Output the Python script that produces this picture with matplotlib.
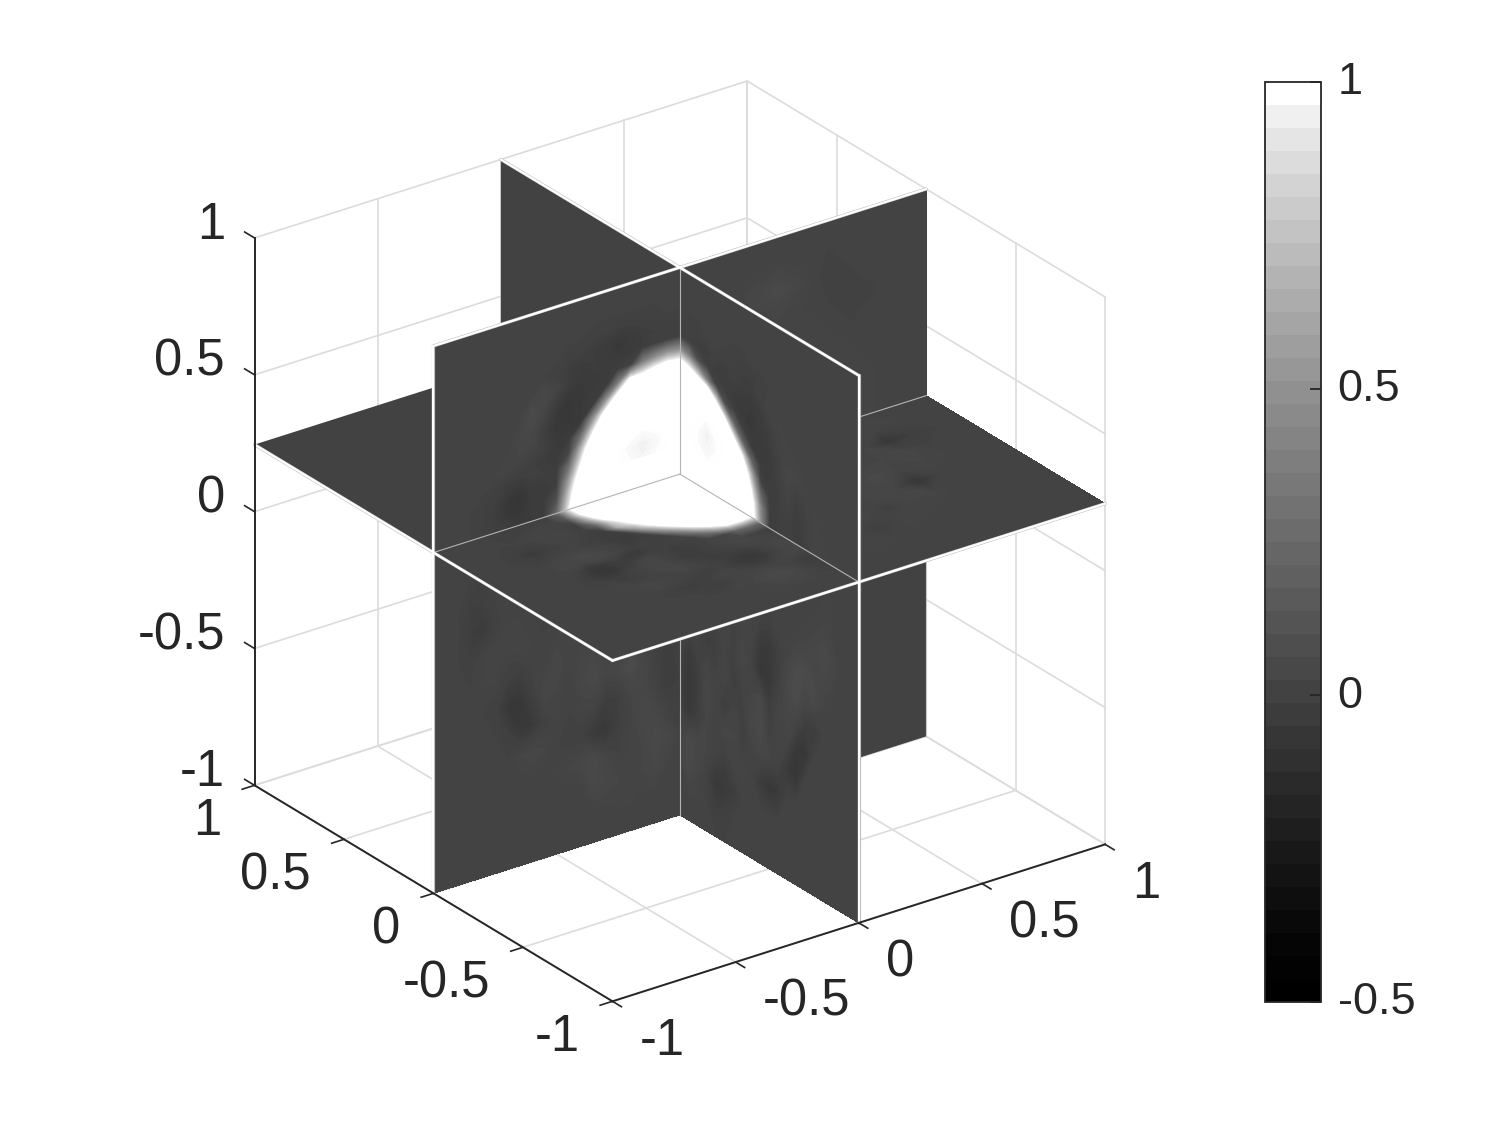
import numpy as np
import matplotlib
matplotlib.use("Agg")
import matplotlib.pyplot as plt
from matplotlib.cm import ScalarMappable
from matplotlib.colors import ListedColormap, LinearSegmentedColormap, Normalize
from matplotlib.transforms import ScaledTranslation

plt.rcParams['font.family'] = ['Liberation Sans', 'DejaVu Sans']

TEXT = '#262626'
GRID = '#dcdcdc'

tick_vals = [-1, -0.5, 0, 0.5, 1]
tick_labels = ['-1', '-0.5', '0', '0.5', '1']
cbar_ticks = [-0.5, 0, 0.5, 1]
cbar_labels = ['-0.5', '0', '0.5', '1']
z_cut = 0.245

# grey steps, bottom to top
grey_levels = [0, 2, 5, 9, 14, 19, 24, 30, 36, 42, 48, 54, 60, 66, 72, 78, 84, 90, 96, 102,
               108, 114, 120, 126, 132, 138, 144, 151, 158, 165, 172, 179, 187, 195, 203,
               211, 220, 229, 240, 255]

# slice values in hundredths, rows run along the second coordinate
# anything above 100 shows as full white
nodes_05 = [-1, -.95, -.9, -.85, -.8, -.75, -.7, -.65, -.6, -.55, -.5, -.45, -.4, -.35, -.3,
            -.25, -.2, -.15, -.1, -.05, 0]
z_up = [z_cut, .3, .35, .4, .45, .5, .55, .6, .65, .7, .75, .8, .85, .9, .95, 1]
z_low = [-1, -.9, -.8, -.7, -.6, -.5, -.4, -.3, -.2, -.1, 0, .1, .2, z_cut]
nodes_pos = [0, .1, .2, .3, .4, .5, .6, .7, .8, .9, 1]
nodes_neg = [-1, -.9, -.8, -.7, -.6, -.5, -.4, -.3, -.2, -.1, 0]

# plane y=0, x<0, above the cut
y0_upper_left = [
    [0, 0, 0, 0, -1, -2, -3, -5, -4, -3, 24, 96, 167, 200, 200, 200, 200, 200, 200, 200, 200],
    [0, 0, 0, 0, -1, -3, -6, -7, -4, -3, 7, 79, 150, 221, 200, 200, 200, 200, 200, 200, 200],
    [0, 0, 0, 0, -1, -2, -6, -8, -4, -4, -2, 57, 129, 200, 200, 100, 99, 97, 99, 100, 100],
    [0, 0, 0, 0, 0, -1, -3, -4, -2, -2, -3, 29, 100, 171, 200, 100, 98, 96, 98, 100, 100],
    [0, 0, 0, 0, 0, 1, 1, 0, -2, -3, -4, 2, 71, 143, 214, 200, 100, 99, 100, 100, 100],
    [0, 0, 0, 0, 0, 0, 1, 2, 1, -1, -5, -4, 29, 100, 171, 200, 200, 200, 200, 200, 200],
    [0, 0, 0, 0, 0, 0, 0, 3, 3, -2, -6, -6, -6, 50, 121, 193, 200, 200, 200, 200, 200],
    [0, 0, 0, 0, 0, 0, 0, 2, 5, 0, -6, -7, -5, -3, 50, 121, 193, 179, 190, 195, 190],
    [0, 0, 0, 0, 0, 0, 0, 0, 5, 3, -3, -6, -6, -4, -4, 36, 107, 107, 121, 129, 121],
    [0, 0, 0, 0, 0, 0, 0, 0, 1, 4, 1, -3, -5, -5, -4, -2, 0, 36, 50, 57, 50],
    [0, 0, 0, 0, 0, 0, 0, 0, 0, 0, -1, -3, -4, -3, -4, -5, -4, -3, -1, -1, -2],
    [0, 0, 0, 0, 0, 0, 0, 0, 0, 0, 0, -1, -2, -3, -4, -6, -5, -3, -2, -2, -2],
    [0, 0, 0, 0, 0, 0, 0, 0, 0, 0, 0, 0, 0, -1, -1, -2, -2, -1, -1, 0, 0],
    [0, 0, 0, 0, 0, 0, 0, 0, 0, 0, 0, 0, 0, 0, 0, 0, 0, 0, 0, 0, 0],
    [0, 0, 0, 0, 0, 0, 0, 0, 0, 0, 0, 0, 0, 0, 0, 0, 0, 0, 0, 0, 0],
    [0, 0, 0, 0, 0, 0, 0, 0, 0, 0, 0, 0, 0, 0, 0, 0, 0, 0, 0, 0, 0],
]

# plane x=0, y<0, above the cut
x0_upper_right = [
    [0, 0, 0, 1, 2, 1, -2, -3, -1, -3, -3, 50, 121, 193, 200, 200, 200, 200, 200, 200, 200],
    [0, 0, 0, 0, 1, 2, -1, -3, -1, -2, -3, 43, 114, 186, 200, 200, 200, 200, 200, 200, 200],
    [0, 0, 0, 0, 0, 2, -1, -3, 0, -2, -3, 21, 93, 164, 200, 200, 100, 99, 100, 100, 100],
    [0, 0, 0, 0, 0, 1, 0, -2, 1, -2, -3, -1, 64, 136, 200, 100, 99, 97, 99, 100, 100],
    [0, 0, 0, 0, 0, 0, 1, 0, 2, -1, -4, -4, 21, 93, 164, 100, 99, 96, 99, 100, 100],
    [0, 0, 0, 0, 0, 0, 1, 2, 2, -1, -4, -5, -3, 21, 93, 164, 100, 99, 100, 100, 100],
    [0, 0, 0, 0, 0, 0, 0, 1, 1, 0, -3, -5, -5, -2, 21, 93, 164, 200, 200, 200, 200],
    [0, 0, 0, 0, 0, 0, 0, 0, 1, 1, -2, -4, -6, -5, -2, 7, 79, 150, 170, 190, 195],
    [0, 0, 0, 0, 0, 0, 0, 0, 0, 1, 0, -3, -5, -5, -4, -2, 0, 36, 79, 107, 121],
    [0, 0, 0, 0, 0, 0, 0, 0, 0, 0, 1, -1, -3, -3, -2, -3, -3, -1, 7, 36, 50],
    [0, 0, 0, 0, 0, 0, 0, 0, 0, 0, 0, -1, -2, -2, -1, -2, -1, -3, -3, -1, -2],
    [0, 0, 0, 0, 0, 0, 0, 0, 0, 0, 0, 0, 0, -1, -1, 0, 1, 0, -1, -1, 0],
    [0, 0, 0, 0, 0, 0, 0, 0, 0, 0, 0, 0, 0, 0, 0, 0, 0, 0, 0, 0, 0],
    [0, 0, 0, 0, 0, 0, 0, 0, 0, 0, 0, 0, 0, 0, 0, 0, 0, 0, 0, 0, 0],
    [0, 0, 0, 0, 0, 0, 0, 0, 0, 0, 0, 0, 0, 0, 0, 0, 0, 0, 0, 0, 0],
    [0, 0, 0, 0, 0, 0, 0, 0, 0, 0, 0, 0, 0, 0, 0, 0, 0, 0, 0, 0, 0],
]

# plane z=cut, x<0, y<0, rows from y=-1 to y=0
z_front = [
    [0, 0, 0, 0, 0, 0, 0, 0, 0, 0, 0, 0, 0, 0, 0, 0, 0, 0, 0, 0, 0],
    [0, 0, 0, 0, 0, 0, 0, 0, 0, 0, 0, 0, 0, 0, 0, 0, 0, 0, 0, 0, 0],
    [0, 0, 0, 0, 0, 0, 0, 0, 0, 0, 0, 0, 0, 0, 0, 0, 0, 1, 1, 0, 0],
    [0, 0, 0, 0, 0, 0, 0, 0, 0, 0, 0, 0, 0, 0, 0, 1, 3, 3, 2, 0, -1],
    [0, 0, 0, 0, 0, 0, 0, 0, 0, 0, 0, 0, 0, 1, 1, 3, 5, 5, 2, -1, -2],
    [0, 0, 0, 0, 0, 0, 0, 0, 0, 0, 0, -1, -2, -1, 1, 2, 3, 2, 0, -3, -3],
    [0, 0, 0, 0, 0, 0, 0, 0, 0, -1, -2, -3, -1, 1, 2, 0, -2, -2, 1, 2, 0],
    [0, 0, 0, 0, 0, 0, 0, 0, 1, 2, 1, 0, -2, -2, 0, -3, -6, -6, -2, 2, 3],
    [0, 0, 0, 0, 0, 0, 0, 1, 2, 2, 0, 1, 2, 1, -1, -3, -5, -4, 0, 3, 2],
    [0, 0, 0, 0, 0, 0, 0, 1, -2, -1, 1, 3, 2, -1, -3, -2, -1, 1, 2, 1, 0],
    [0, 0, 0, 0, 0, 0, -1, -3, -3, 0, 2, 3, 0, -3, -3, -1, 1, 3, 2, -1, -2],
    [0, 0, 0, 0, 0, 0, -3, -7, -7, -3, 0, 3, 0, -3, -3, -1, 1, 0, 20, 25, 21],
    [0, 0, 0, 0, 0, 1, -1, -6, -5, -2, -5, -5, -2, -1, 0, 0, 27, 64, 96, 100, 93],
    [0, 0, 0, 0, 0, 2, 3, 1, 4, 3, 1, -2, 0, -2, 0, 39, 84, 127, 167, 171, 164],
    [0, 0, 0, 0, 0, 1, 2, 4, 4, 2, 0, -3, -4, 0, 50, 96, 141, 200, 200, 200, 200],
    [0, 0, 0, 0, -1, -2, 0, 1, 0, -1, -2, -3, -4, 57, 100, 140, 200, 200, 200, 200, 200],
    [0, 0, 0, 0, -2, -4, -3, -1, 1, 0, -2, -3, 64, 93, 130, 200, 200, 200, 200, 200, 200],
    [0, 0, 0, 0, -1, -2, -1, 1, 2, 1, -1, 20, 80, 125, 200, 200, 200, 200, 200, 200, 200],
    [0, 0, 0, 0, 0, 0, 1, 2, 1, 0, -1, 57, 120, 200, 200, 200, 200, 200, 200, 200, 200],
    [0, 0, 0, 0, 0, -1, -1, 0, 1, 0, 14, 86, 150, 200, 200, 200, 200, 200, 200, 200, 200],
    [0, 0, 0, 0, 0, -1, -2, -3, -2, -1, 21, 93, 164, 200, 200, 200, 200, 200, 200, 200, 200],
]

# plane y=0, x<0, below the cut
y0_lower_left = [
    [0, 0, 0, 0, 0, 0, 0, 0, 0, 0, 0, 0, 0, 0, 0, 0, 0, 0, 0, 0, 0],
    [0, 0, 0, 0, 0, 0, 0, 0, 0, 0, 0, 0, 0, 0, 0, 1, 1, 0, 0, 0, 0],
    [0, 0, 0, 0, 0, 0, 0, 0, 0, 0, 0, 0, 0, 4, 3, 2, 1, 2, 3, 1, 0],
    [0, 0, 0, 0, 0, 0, 0, 0, 0, 0, 1, 2, 3, 5, 2, 0, 1, 2, 5, 3, 0],
    [0, 0, 0, 0, 0, 0, 0, 2, 3, 2, 0, -1, -1, -5, -6, -2, 1, 4, 3, 0, -1],
    [0, 0, 0, 0, 0, 0, -2, -6, -5, -1, 1, 0, 1, 1, -3, -2, 2, 3, 0, -3, -2],
    [0, 0, 0, 0, 0, -1, -6, -7, -2, 3, 2, 0, 3, 5, 2, 3, 6, 3, -1, -3, -1],
    [0, 0, 0, 0, 1, 1, -1, -2, 0, 1, 3, 1, 2, 3, 1, 2, 3, 1, 0, -2, -1],
    [0, 0, 0, -1, 1, 2, 1, 2, 1, 0, 1, 2, 0, -1, 0, 1, 0, -1, 0, 1, 0],
    [0, 0, 0, -3, -4, -1, 1, 1, 0, -1, 0, 1, 1, 0, -1, 0, 1, 0, 0, 0, 0],
    [0, 0, 0, -2, -2, 0, 0, -1, 0, 0, 1, 0, 0, 0, 0, 0, 0, 0, 0, 0, 0],
    [0, 0, 0, 0, -1, -1, 1, 1, 0, 0, 0, 0, 0, 0, 0, 0, 0, 0, 0, 0, 0],
    [0, 0, 0, 0, -1, -2, -3, -3, -2, -1, 0, 0, 0, 0, 0, 0, 0, 0, 0, 0, 0],
    [0, 0, 0, 0, 0, -1, -2, -3, -3, -2, 10, 60, 100, 100, 100, 100, 100, 100, 100, 100, 100],
]

# plane x=0, y<0, below the cut
x0_lower_right = [
    [0, 0, 0, 0, 0, 0, 0, 0, 0, 0, 0, 0, 0, 0, 0, 0, 0, 0, 0, 0, 0],
    [0, 0, 0, 0, 0, 0, 0, 0, 0, 0, 0, 0, 0, 0, 0, -1, -2, 0, 1, 1, 0],
    [0, 0, 0, 0, 0, 0, 0, 0, 0, 0, 0, 0, 0, 0, -3, -5, -6, -1, 2, 5, 1],
    [0, 0, 0, 0, 0, 0, 0, 0, 0, -5, -7, -4, 0, 2, 1, -2, 0, 2, 3, 5, 1],
    [0, 0, 0, 0, 0, 0, 0, -8, -5, 0, 2, 3, 1, -2, 2, 3, 0, 2, -2, -6, -2],
    [0, 0, 0, 0, 0, 0, -7, -6, 1, 2, -1, 5, 3, -1, 1, -3, 1, 3, -3, -7, -2],
    [0, 0, 0, 0, 0, -3, -3, 2, 3, 1, -3, 4, 2, 0, -3, 2, 0, 2, -2, -5, -1],
    [0, 0, 0, 0, 1, 4, 3, 6, 4, -1, -6, -7, 0, 3, -1, 1, -2, -3, 1, -1, 0],
    [0, 0, 0, 2, 3, 4, 5, 5, 2, -2, -5, -5, 1, 2, -1, 2, 1, 0, 2, 1, 0],
    [0, 0, 0, 3, 5, 3, 2, 1, 0, 1, -1, 0, 1, 0, 0, 0, 0, 0, 0, 0, 0],
    [0, 0, 0, 1, 2, 1, 0, 0, 0, 0, 0, 0, 0, 0, 0, 0, 0, 0, 0, 0, 0],
    [0, 0, 0, 1, 1, 0, 0, 0, 0, 0, 0, 0, 0, 0, 0, 0, 0, 0, 0, 0, 0],
    [0, 0, 0, 0, 0, 0, 0, 0, 0, 0, 0, 0, 0, 0, 0, 0, 0, 0, 0, 0, 0],
    [0, 0, 0, 1, 2, 1, -2, -3, -1, -3, -3, 50, 100, 100, 100, 100, 100, 100, 100, 100, 100],
]

# plane z=cut, x>0, y<0, rows from y=-1 to y=0
z_right = [
    [0, 0, 0, 0, 0, 0, 0, 0, 0, 0, 0],
    [0, 0, 0, 0, 0, 0, 0, 0, 0, 0, 0],
    [0, 1, 2, 1, 0, 0, 0, 0, 0, 0, 0],
    [1, 2, 1, -2, 2, 1, 0, 0, 0, 0, 0],
    [0, -1, 2, 3, -1, 2, 2, 0, 0, 0, 0],
    [-2, 0, 1, -1, 3, 2, -7, 0, 0, 0, 0],
    [1, 2, -1, 2, 1, 5, 1, 2, 1, 0, 0],
    [2, -1, 1, 1, -2, 1, 2, 3, 0, 0, 0],
    [1, 0, 2, -1, 2, 0, 2, -7, -2, 0, 0],
    [0, 1, -1, 1, 0, 2, 1, 2, 1, 0, 0],
    [0, 0, 0, 0, 0, 0, 1, 1, 0, 0, 0],
]

# plane y=0, x>0, above the cut
z_up_coarse = [z_cut, .4, .5, .6, .7, .8, .9, 1]
y0_upper_back = [
    [0, 0, 0, 0, 0, 1, 1, 2, 1, 0, 0],
    [0, 0, 0, 0, 1, 2, 1, 1, 1, 0, 0],
    [0, 0, 0, 0, 1, 1, 2, 1, 0, 0, 0],
    [0, 0, 0, 0, 0, 1, 1, 0, 0, 0, 0],
    [0, 0, 0, 0, 2, 1, 0, -1, 0, 0, 0],
    [0, 0, 0, 3, 5, 2, -1, 0, 0, 0, 0],
    [0, 0, 0, 0, 1, 0, 0, 0, 0, 0, 0],
    [0, 0, 0, 0, 0, 0, 0, 0, 0, 0, 0],
]

fig = plt.figure(figsize=(15, 11.25), dpi=100)
S = 1024
ax = fig.add_axes([(666 - S / 2) / 1500, (1125 - 555 - S / 2) / 1125, S / 1500, S / 1125],
                  projection='3d', proj_type='ortho', computed_zorder=False)
ax.patch.set_alpha(0)
ax.view_init(elev=26, azim=-126)
ax.set_box_aspect((1, 1, 1))
ax.set_axis_off()

norm = Normalize(-0.5, 1)
grey_rgb = np.array(grey_levels)[:, None].repeat(3, axis=1) / 255
cbar_cmap = ListedColormap(grey_rgb)
slice_cmap = LinearSegmentedColormap.from_list('slice', grey_rgb, N=512)
bands = np.arange(-0.12, 1.015, 0.01)
cam = np.array([np.cos(np.radians(-126)) * np.cos(np.radians(26)),
                np.sin(np.radians(-126)) * np.cos(np.radians(26)),
                np.sin(np.radians(26))])
base = slice_cmap(norm(0))


def draw_piece(plane, a, b, values=None):
    A, B = np.meshgrid(np.array(a, dtype=float), np.array(b, dtype=float))
    flat = np.zeros_like(A)
    if plane == 'x':
        pts = (flat, A, B)
    elif plane == 'y':
        pts = (A, flat, B)
    else:
        pts = (A, B, flat + z_cut)
    off = z_cut if plane == 'z' else 0
    mid = np.array([p.mean() for p in pts]) - [0, 0, z_cut]
    order = 10 + 10 * mid @ cam
    ax.plot_surface(*pts, color=base, shade=False, linewidth=0, antialiased=True,
                    rstride=len(b), cstride=len(a), zorder=order)
    if values is not None:
        V = np.array(values) / 100
        if plane == 'x':
            grid = (V, A, B)
        elif plane == 'y':
            grid = (A, V, B)
        else:
            grid = (A, B, V)
        ax.contourf(*grid, levels=bands, cmap=slice_cmap, norm=norm, extend='both',
                    zdir=plane, offset=off, zorder=order + 0.01)


draw_piece('x', [0, 1], [-1, z_cut])
draw_piece('y', [0, 1], [-1, z_cut])
draw_piece('z', [0, 1], [0, 1])
draw_piece('z', [-1, 0], [0, 1])
draw_piece('x', [0, 1], [z_cut, 1])
draw_piece('y', nodes_pos, z_up_coarse, y0_upper_back)
draw_piece('z', nodes_pos, nodes_neg, z_right)
draw_piece('y', nodes_05, z_low, y0_lower_left)
draw_piece('x', nodes_05, z_low, x0_lower_right)
draw_piece('z', nodes_05, nodes_05, z_front)
draw_piece('y', nodes_05, z_up, y0_upper_left)
draw_piece('x', nodes_05, z_up, x0_upper_right)

# grid on the floor and the two back walls
for t in tick_vals:
    ax.plot([t, t], [-1, 1], [-1, -1], color=GRID, lw=1.2, zorder=1)
    ax.plot([-1, 1], [t, t], [-1, -1], color=GRID, lw=1.2, zorder=1)
    ax.plot([1, 1], [t, t], [-1, 1], color=GRID, lw=1.2, zorder=1)
    ax.plot([1, 1], [-1, 1], [t, t], color=GRID, lw=1.2, zorder=1)
    ax.plot([t, t], [1, 1], [-1, 1], color=GRID, lw=1.2, zorder=1)
    ax.plot([-1, 1], [1, 1], [t, t], color=GRID, lw=1.2, zorder=1)

# axis lines, ticks and tick labels
ax.plot([-1, -1], [1, 1], [-1, 1], color=TEXT, lw=1.4, zorder=30)
ax.plot([-1, -1], [-1, 1], [-1, -1], color=TEXT, lw=1.4, zorder=30)
ax.plot([-1, 1], [-1, -1], [-1, -1], color=TEXT, lw=1.4, zorder=30)
for t, lab in zip(tick_vals, tick_labels):
    ax.plot([-1, -1], [1, 1.055], [t, t], color=TEXT, lw=1.2, zorder=30)
    ax.plot([-1, -1.05], [t, t], [-1, -1], color=TEXT, lw=1.2, zorder=30)
    ax.plot([t, t], [-1, -1.05], [-1, -1], color=TEXT, lw=1.2, zorder=30)
    ax.text(-1, 1.165, t - 0.02, lab, ha='right', va='center', fontsize=36.5, color=TEXT, zorder=31)
    ax.text(-1.134, t, -1.095, lab, ha='right', va='center', fontsize=36.5, color=TEXT, zorder=31)
    ax.text(t, -1.15, -1.088, lab, ha='left', va='center', fontsize=36.5, color=TEXT, zorder=31)

# thin edges where the slices meet
EDGE = '#b4b4b4'
ax.plot([0, 0], [0, 0], [-1, z_cut], color=EDGE, lw=0.8, zorder=12)
ax.plot([0, 1], [0, 0], [z_cut, z_cut], color=EDGE, lw=0.8, zorder=15)
ax.plot([0, 0], [0, 0], [z_cut, 1], color=EDGE, lw=0.8, zorder=25)
ax.plot([-1, 0], [0, 0], [z_cut, z_cut], color=EDGE, lw=0.8, zorder=25)
ax.plot([0, 0], [-1, 0], [z_cut, z_cut], color=EDGE, lw=0.8, zorder=25)
ax.plot([1, 1], [0, 0], [-1, 1], color='#c8c8c8', lw=0.8, zorder=5)

# white outlines of the slices
outlines = [
    ([-1, 1], [0, 0], [1, 1]),
    ([0, 0], [-1, 1], [1, 1]),
    ([-1, -1], [0, 0], [-1, 1]),
    ([0, 0], [-1, -1], [-1, 1]),
    ([-1, -1], [-1, 1], [z_cut, z_cut]),
    ([-1, 1], [-1, -1], [z_cut, z_cut]),
]
for xs, ys, zs in outlines:
    ax.plot(xs, ys, zs, color='#b8b8b8', lw=2.3, zorder=26, solid_capstyle='round')
for xs, ys, zs in outlines:
    ax.plot(xs, ys, zs, color='white', lw=1.6, zorder=27, solid_capstyle='round')

ax.set_xlim(-1, 1, view_margin=0)
ax.set_ylim(-1, 1, view_margin=0)
ax.set_zlim(-1, 1, view_margin=0)

# colorbar
cax = fig.add_axes([1265 / 1500, (1125 - 1002) / 1125, 56 / 1500, 920 / 1125])
cb = fig.colorbar(ScalarMappable(norm=norm, cmap=cbar_cmap), cax=cax, ticks=cbar_ticks)
cb.ax.set_yticklabels(cbar_labels)
cb.ax.tick_params(axis='y', direction='in', length=8, width=1.3, labelsize=32.5,
                  labelcolor=TEXT, color=TEXT, pad=12)
for lab in cb.ax.get_yticklabels():
    lab.set_transform(lab.get_transform() + ScaledTranslation(0, 3.5 / 100, fig.dpi_scale_trans))
cb.outline.set_edgecolor(TEXT)
cb.outline.set_linewidth(1.3)

fig.savefig('out.png', dpi=100)
